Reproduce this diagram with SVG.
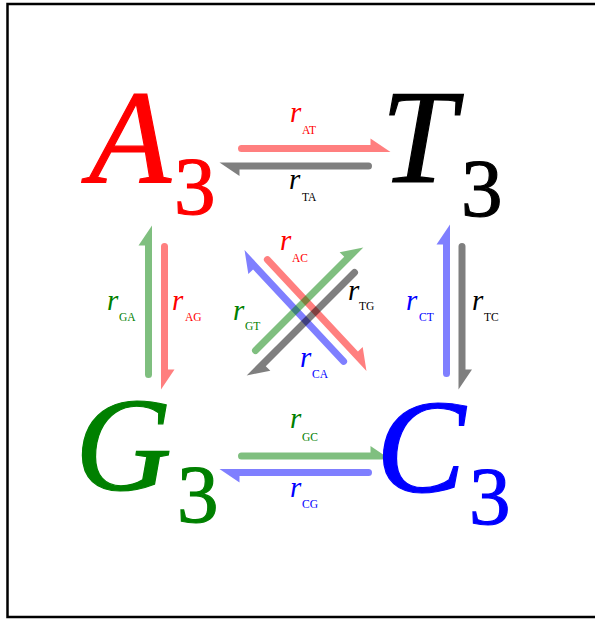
<svg xmlns="http://www.w3.org/2000/svg" xmlns:xlink="http://www.w3.org/1999/xlink" width="595" height="619" viewBox="0 0 595 619">
<style>
.big{font-family:"Liberation Serif","Times New Roman",serif;font-style:italic;font-size:134px;stroke-width:1.2}
.sub3{font-family:"Liberation Serif","Times New Roman",serif;font-size:83px;stroke-width:1.2}
.r{font-family:"Liberation Serif","Times New Roman",serif;font-style:italic;font-size:29px}
.s{font-family:"Liberation Serif","Times New Roman",serif;font-size:11.5px}
.red{fill:#ff0000}.blk{fill:#000000}.grn{fill:#008000}.blu{fill:#0000ff}
.big.red,.sub3.red{stroke:#ff0000}.big.blk,.sub3.blk{stroke:#000000}.big.grn,.sub3.grn{stroke:#008000}.big.blu,.sub3.blu{stroke:#0000ff}
.arr{opacity:0.5}
</style>
<defs>
<path id="h" d="M0,-3.5 H129 V-10 L149,3.5 H0 A3.5,3.5 0 0 1 0,-3.5 Z"/>
<path id="hs" d="M0,-3.5 H123 V-10 L143,3.5 H0 A3.5,3.5 0 0 1 0,-3.5 Z"/>
</defs>
<rect x="7.5" y="4" width="600" height="613" fill="#ffffff" stroke="#000000" stroke-width="2.5"/>
<g id="connectors">
<use xlink:href="#h" class="arr red" transform="translate(241.5,148.5)"/>
<use xlink:href="#h" class="arr blk" transform="translate(368.5,166) rotate(180)"/>
<use xlink:href="#h" class="arr grn" transform="translate(241.5,456)"/>
<use xlink:href="#h" class="arr blu" transform="translate(368.5,472.5) rotate(180)"/>
<use xlink:href="#h" class="arr grn" transform="translate(148.5,374.5) rotate(-90)"/>
<use xlink:href="#hs" class="arr red" transform="translate(164.5,246.5) rotate(90)"/>
<use xlink:href="#h" class="arr blu" transform="translate(446.5,373.5) rotate(-90)"/>
<use xlink:href="#hs" class="arr blk" transform="translate(462,246.5) rotate(90)"/>
<use xlink:href="#h" class="arr red" transform="translate(267.4,259.6) rotate(47)"/>
<use xlink:href="#h" class="arr blu" transform="translate(343.6,361.4) rotate(-133)"/>
<use xlink:href="#h" class="arr grn" transform="translate(255.5,350.5) rotate(-45)"/>
<use xlink:href="#h" class="arr blk" transform="translate(354.5,272.5) rotate(135)"/>
<g id="labels">
<text class="r red" x="290" y="122">r</text><text class="s red" x="302" y="134">AT</text>
<text class="r blk" x="289" y="189">r</text><text class="s blk" x="302" y="201">TA</text>
<text class="r grn" x="290" y="428">r</text><text class="s grn" x="302" y="441">GC</text>
<text class="r blu" x="290" y="497">r</text><text class="s blu" x="302" y="508">CG</text>
<text class="r grn" x="107" y="310">r</text><text class="s grn" x="119" y="321">GA</text>
<text class="r red" x="172" y="310">r</text><text class="s red" x="185" y="321">AG</text>
<text class="r blu" x="406" y="310">r</text><text class="s blu" x="419" y="321">CT</text>
<text class="r blk" x="472" y="310">r</text><text class="s blk" x="484" y="321">TC</text>
<text class="r red" x="280" y="250">r</text><text class="s red" x="292" y="262">AC</text>
<text class="r blk" x="348" y="300">r</text><text class="s blk" x="359" y="310">TG</text>
<text class="r grn" x="233" y="320">r</text><text class="s grn" x="245" y="330">GT</text>
<text class="r blu" x="300" y="367">r</text><text class="s blu" x="312" y="378">CA</text>
</g>
</g>
<g id="A3"><text class="big red" x="89" y="182">A</text><text class="sub3 red" x="174" y="214">3</text></g>
<g id="T3"><text class="big blk" x="381" y="182">T</text><text class="sub3 blk" x="461" y="216">3</text></g>
<g id="G3"><text class="big grn" x="75" y="490">G</text><text class="sub3 grn" x="177" y="522">3</text></g>
<g id="C3"><text class="big blu" x="376" y="492">C</text><text class="sub3 blu" x="469" y="524">3</text></g>
</svg>
